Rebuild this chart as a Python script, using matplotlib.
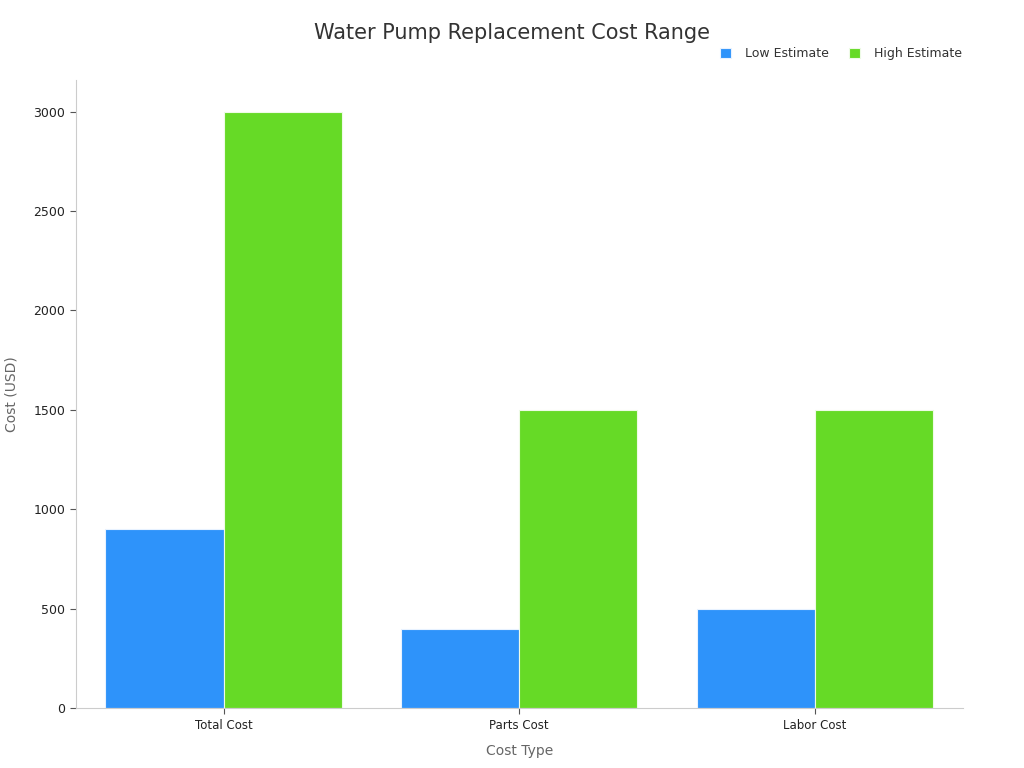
import numpy as np
import matplotlib
matplotlib.use("Agg")
from matplotlib import pyplot as plt

# andmed
kategooriad = ["Total Cost", "Parts Cost", "Labor Cost"]
madal = [900, 400, 500]
korge = [3000, 1500, 1500]
seeriad = ["Low Estimate", "High Estimate"]
varvid = ["#2E93FA", "#66DA26"]

fig = plt.figure(figsize=(10.24, 7.68), dpi=100)
ax = fig.add_axes([0.074, 0.078, 0.866, 0.818])

x = np.arange(len(kategooriad))
laius = 0.4
ax.bar(x - laius / 2, madal, laius, color=varvid[0], edgecolor="#e8f2ff", linewidth=0.8, label=seeriad[0])
ax.bar(x + laius / 2, korge, laius, color=varvid[1], edgecolor="#eefbe6", linewidth=0.8, label=seeriad[1])

ax.set_xlim(-0.5, 2.5)
ax.set_ylim(0, 3160)
ax.set_xticks(x)
ax.set_xticklabels(kategooriad, fontsize=8.5, color="#222222")
ax.set_yticks([0, 500, 1000, 1500, 2000, 2500, 3000])
ax.tick_params(axis="y", labelsize=9, colors="#222222", length=4, color="#555555")
ax.tick_params(axis="x", length=4, color="#555555")

for s in ["top", "right"]:
    ax.spines[s].set_visible(False)
ax.spines["left"].set_color("#cccccc")
ax.spines["bottom"].set_color("#cccccc")

ax.set_xlabel("Cost Type", fontsize=10, color="#666666", labelpad=9)
ax.set_ylabel("Cost (USD)", fontsize=10, color="#666666", labelpad=11)

fig.text(0.5, 0.957, "Water Pump Replacement Cost Range", ha="center", va="center", fontsize=15, color="#333333")

leg = ax.legend(loc="upper right", bbox_to_anchor=(1.012, 1.07), ncol=2, frameon=False, fontsize=9,
                handlelength=0.9, handleheight=0.9, handletextpad=1.1, columnspacing=1.6)
for t in leg.get_texts():
    t.set_color("#333333")

fig.savefig("out.png", dpi=100)
